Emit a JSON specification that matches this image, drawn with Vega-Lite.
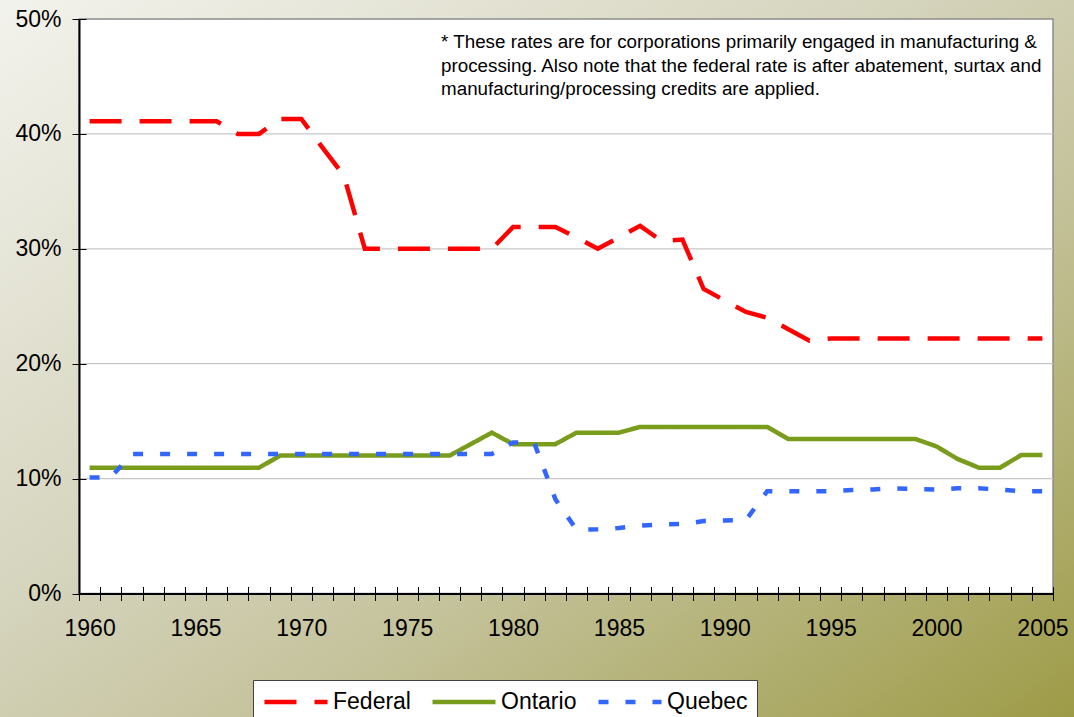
{
  "$schema": "https://vega.github.io/schema/vega-lite/v6.json",
  "width": 974,
  "height": 574.5,
  "autosize": {"type": "none"},
  "padding": {"left": 79, "top": 19, "right": 21, "bottom": 123.5},
  "config": {
    "font": "Liberation Sans",
    "view": {"stroke": null},
    "axis": {"labelFont": "Liberation Sans", "labelColor": "#000000", "grid": false, "title": null}
  },
  "resolve": {"axis": {"x": "independent", "y": "independent"}},
  "layer": [
    {
      "data": {"values": [{}]},
      "mark": {
        "type": "rect",
        "color": {
          "gradient": "linear", "x1": 0, "y1": 0, "x2": 1, "y2": 1,
          "stops": [
            {"offset": 0, "color": "#f4f4ef"},
            {"offset": 0.42, "color": "#d5d4bd"},
            {"offset": 0.61, "color": "#c5c39c"},
            {"offset": 0.92, "color": "#a3a153"},
            {"offset": 1, "color": "#9a973f"}
          ]
        }
      },
      "encoding": {
        "x": {"datum": 1955, "type": "quantitative", "scale": {"domain": [1959.5, 2005.5], "nice": false, "zero": false}, "axis": null},
        "x2": {"datum": 2008},
        "y": {"datum": -13, "type": "quantitative", "scale": {"domain": [0, 50], "nice": false, "zero": false}, "axis": null},
        "y2": {"datum": 53}
      }
    },
    {
      "data": {"values": [{}]},
      "mark": {"type": "rect", "fill": "#ffffff", "stroke": "#8c8c8c", "strokeWidth": 1.5},
      "encoding": {
        "x": {"datum": 1959.5, "type": "quantitative", "scale": {"domain": [1959.5, 2005.5], "nice": false, "zero": false},
          "axis": {"orient": "bottom", "zindex": 1, "values": [1959.5,1960.5,1961.5,1962.5,1963.5,1964.5,1965.5,1966.5,1967.5,1968.5,1969.5,1970.5,1971.5,1972.5,1973.5,1974.5,1975.5,1976.5,1977.5,1978.5,1979.5,1980.5,1981.5,1982.5,1983.5,1984.5,1985.5,1986.5,1987.5,1988.5,1989.5,1990.5,1991.5,1992.5,1993.5,1994.5,1995.5,1996.5,1997.5,1998.5,1999.5,2000.5,2001.5,2002.5,2003.5,2004.5,2005.5], "labels": false, "domain": false, "ticks": true, "tickSize": 7, "tickColor": "#000000", "tickWidth": 1}},
        "x2": {"datum": 2005.5},
        "y": {"datum": 0, "type": "quantitative", "scale": {"domain": [0, 50], "nice": false, "zero": false}, "axis": null},
        "y2": {"datum": 50}
      }
    },
    {
      "data": {"values": [{"g": 10}, {"g": 20}, {"g": 30}, {"g": 40}]},
      "mark": {"type": "rule", "color": "#c8c8c8", "strokeWidth": 1.2},
      "encoding": {
        "x": {"datum": 1959.5, "type": "quantitative", "scale": {"domain": [1959.5, 2005.5], "nice": false, "zero": false},
          "axis": {"orient": "bottom", "zindex": 1, "offset": -7, "values": [1959.5,1960.5,1961.5,1962.5,1963.5,1964.5,1965.5,1966.5,1967.5,1968.5,1969.5,1970.5,1971.5,1972.5,1973.5,1974.5,1975.5,1976.5,1977.5,1978.5,1979.5,1980.5,1981.5,1982.5,1983.5,1984.5,1985.5,1986.5,1987.5,1988.5,1989.5,1990.5,1991.5,1992.5,1993.5,1994.5,1995.5,1996.5,1997.5,1998.5,1999.5,2000.5,2001.5,2002.5,2003.5,2004.5,2005.5], "labels": false, "domain": false, "ticks": true, "tickSize": 7, "tickColor": "#000000", "tickWidth": 1}},
        "x2": {"datum": 2005.5},
        "y": {"field": "g", "type": "quantitative", "scale": {"domain": [0, 50], "nice": false, "zero": false},
          "axis": {"orient": "left", "zindex": 1, "offset": -7, "values": [0, 10, 20, 30, 40, 50], "labels": false, "domain": false, "ticks": true, "tickSize": 7, "tickColor": "#000000", "tickWidth": 1}}
      }
    },
    {
      "data": {"values": [
        {"year": 1960, "series": "Federal", "rate": 41.1},
        {"year": 1961, "series": "Federal", "rate": 41.1},
        {"year": 1962, "series": "Federal", "rate": 41.1},
        {"year": 1963, "series": "Federal", "rate": 41.1},
        {"year": 1964, "series": "Federal", "rate": 41.1},
        {"year": 1965, "series": "Federal", "rate": 41.1},
        {"year": 1966, "series": "Federal", "rate": 41.1},
        {"year": 1967, "series": "Federal", "rate": 40.0},
        {"year": 1968, "series": "Federal", "rate": 40.0},
        {"year": 1969, "series": "Federal", "rate": 41.3},
        {"year": 1970, "series": "Federal", "rate": 41.3},
        {"year": 1971, "series": "Federal", "rate": 38.8},
        {"year": 1972, "series": "Federal", "rate": 36.4},
        {"year": 1973, "series": "Federal", "rate": 30.0},
        {"year": 1974, "series": "Federal", "rate": 30.0},
        {"year": 1975, "series": "Federal", "rate": 30.0},
        {"year": 1976, "series": "Federal", "rate": 30.0},
        {"year": 1977, "series": "Federal", "rate": 30.0},
        {"year": 1978, "series": "Federal", "rate": 30.0},
        {"year": 1979, "series": "Federal", "rate": 30.0},
        {"year": 1980, "series": "Federal", "rate": 31.9},
        {"year": 1981, "series": "Federal", "rate": 31.9},
        {"year": 1982, "series": "Federal", "rate": 31.9},
        {"year": 1983, "series": "Federal", "rate": 31.0},
        {"year": 1984, "series": "Federal", "rate": 30.0},
        {"year": 1985, "series": "Federal", "rate": 31.0},
        {"year": 1986, "series": "Federal", "rate": 32.0},
        {"year": 1987, "series": "Federal", "rate": 30.7},
        {"year": 1988, "series": "Federal", "rate": 30.8},
        {"year": 1989, "series": "Federal", "rate": 26.5},
        {"year": 1990, "series": "Federal", "rate": 25.5},
        {"year": 1991, "series": "Federal", "rate": 24.5},
        {"year": 1992, "series": "Federal", "rate": 24.0},
        {"year": 1993, "series": "Federal", "rate": 23.0},
        {"year": 1994, "series": "Federal", "rate": 22.0},
        {"year": 1995, "series": "Federal", "rate": 22.2},
        {"year": 1996, "series": "Federal", "rate": 22.2},
        {"year": 1997, "series": "Federal", "rate": 22.2},
        {"year": 1998, "series": "Federal", "rate": 22.2},
        {"year": 1999, "series": "Federal", "rate": 22.2},
        {"year": 2000, "series": "Federal", "rate": 22.2},
        {"year": 2001, "series": "Federal", "rate": 22.2},
        {"year": 2002, "series": "Federal", "rate": 22.2},
        {"year": 2003, "series": "Federal", "rate": 22.2},
        {"year": 2004, "series": "Federal", "rate": 22.2},
        {"year": 2005, "series": "Federal", "rate": 22.2},
        {"year": 1960, "series": "Ontario", "rate": 10.95},
        {"year": 1961, "series": "Ontario", "rate": 10.95},
        {"year": 1962, "series": "Ontario", "rate": 10.95},
        {"year": 1963, "series": "Ontario", "rate": 10.95},
        {"year": 1964, "series": "Ontario", "rate": 10.95},
        {"year": 1965, "series": "Ontario", "rate": 10.95},
        {"year": 1966, "series": "Ontario", "rate": 10.95},
        {"year": 1967, "series": "Ontario", "rate": 10.95},
        {"year": 1968, "series": "Ontario", "rate": 10.95},
        {"year": 1969, "series": "Ontario", "rate": 12.0},
        {"year": 1970, "series": "Ontario", "rate": 12.0},
        {"year": 1971, "series": "Ontario", "rate": 12.0},
        {"year": 1972, "series": "Ontario", "rate": 12.0},
        {"year": 1973, "series": "Ontario", "rate": 12.0},
        {"year": 1974, "series": "Ontario", "rate": 12.0},
        {"year": 1975, "series": "Ontario", "rate": 12.0},
        {"year": 1976, "series": "Ontario", "rate": 12.0},
        {"year": 1977, "series": "Ontario", "rate": 12.0},
        {"year": 1978, "series": "Ontario", "rate": 13.0},
        {"year": 1979, "series": "Ontario", "rate": 14.0},
        {"year": 1980, "series": "Ontario", "rate": 13.0},
        {"year": 1981, "series": "Ontario", "rate": 13.0},
        {"year": 1982, "series": "Ontario", "rate": 13.0},
        {"year": 1983, "series": "Ontario", "rate": 14.0},
        {"year": 1984, "series": "Ontario", "rate": 14.0},
        {"year": 1985, "series": "Ontario", "rate": 14.0},
        {"year": 1986, "series": "Ontario", "rate": 14.5},
        {"year": 1987, "series": "Ontario", "rate": 14.5},
        {"year": 1988, "series": "Ontario", "rate": 14.5},
        {"year": 1989, "series": "Ontario", "rate": 14.5},
        {"year": 1990, "series": "Ontario", "rate": 14.5},
        {"year": 1991, "series": "Ontario", "rate": 14.5},
        {"year": 1992, "series": "Ontario", "rate": 14.5},
        {"year": 1993, "series": "Ontario", "rate": 13.45},
        {"year": 1994, "series": "Ontario", "rate": 13.45},
        {"year": 1995, "series": "Ontario", "rate": 13.45},
        {"year": 1996, "series": "Ontario", "rate": 13.45},
        {"year": 1997, "series": "Ontario", "rate": 13.45},
        {"year": 1998, "series": "Ontario", "rate": 13.45},
        {"year": 1999, "series": "Ontario", "rate": 13.45},
        {"year": 2000, "series": "Ontario", "rate": 12.8},
        {"year": 2001, "series": "Ontario", "rate": 11.7},
        {"year": 2002, "series": "Ontario", "rate": 10.95},
        {"year": 2003, "series": "Ontario", "rate": 10.95},
        {"year": 2004, "series": "Ontario", "rate": 12.05},
        {"year": 2005, "series": "Ontario", "rate": 12.05},
        {"year": 1960, "series": "Quebec", "rate": 10.1},
        {"year": 1961, "series": "Quebec", "rate": 10.1},
        {"year": 1962, "series": "Quebec", "rate": 12.15},
        {"year": 1963, "series": "Quebec", "rate": 12.15},
        {"year": 1964, "series": "Quebec", "rate": 12.15},
        {"year": 1965, "series": "Quebec", "rate": 12.15},
        {"year": 1966, "series": "Quebec", "rate": 12.15},
        {"year": 1967, "series": "Quebec", "rate": 12.15},
        {"year": 1968, "series": "Quebec", "rate": 12.15},
        {"year": 1969, "series": "Quebec", "rate": 12.15},
        {"year": 1970, "series": "Quebec", "rate": 12.15},
        {"year": 1971, "series": "Quebec", "rate": 12.15},
        {"year": 1972, "series": "Quebec", "rate": 12.15},
        {"year": 1973, "series": "Quebec", "rate": 12.15},
        {"year": 1974, "series": "Quebec", "rate": 12.15},
        {"year": 1975, "series": "Quebec", "rate": 12.15},
        {"year": 1976, "series": "Quebec", "rate": 12.15},
        {"year": 1977, "series": "Quebec", "rate": 12.15},
        {"year": 1978, "series": "Quebec", "rate": 12.15},
        {"year": 1979, "series": "Quebec", "rate": 12.15},
        {"year": 1980, "series": "Quebec", "rate": 13.15},
        {"year": 1981, "series": "Quebec", "rate": 13.1},
        {"year": 1982, "series": "Quebec", "rate": 8.2},
        {"year": 1983, "series": "Quebec", "rate": 5.55},
        {"year": 1984, "series": "Quebec", "rate": 5.6},
        {"year": 1985, "series": "Quebec", "rate": 5.7},
        {"year": 1986, "series": "Quebec", "rate": 5.9},
        {"year": 1987, "series": "Quebec", "rate": 6.0},
        {"year": 1988, "series": "Quebec", "rate": 6.05},
        {"year": 1989, "series": "Quebec", "rate": 6.3},
        {"year": 1990, "series": "Quebec", "rate": 6.35},
        {"year": 1991, "series": "Quebec", "rate": 6.4},
        {"year": 1992, "series": "Quebec", "rate": 8.9},
        {"year": 1993, "series": "Quebec", "rate": 8.9},
        {"year": 1994, "series": "Quebec", "rate": 8.9},
        {"year": 1995, "series": "Quebec", "rate": 8.9},
        {"year": 1996, "series": "Quebec", "rate": 9.0},
        {"year": 1997, "series": "Quebec", "rate": 9.05},
        {"year": 1998, "series": "Quebec", "rate": 9.15},
        {"year": 1999, "series": "Quebec", "rate": 9.1},
        {"year": 2000, "series": "Quebec", "rate": 9.05},
        {"year": 2001, "series": "Quebec", "rate": 9.15},
        {"year": 2002, "series": "Quebec", "rate": 9.15},
        {"year": 2003, "series": "Quebec", "rate": 9.05},
        {"year": 2004, "series": "Quebec", "rate": 8.9},
        {"year": 2005, "series": "Quebec", "rate": 8.9}
      ]},
      "mark": {"type": "line", "strokeWidth": 4.5},
      "encoding": {
        "x": {"field": "year", "type": "quantitative", "scale": {"domain": [1959.5, 2005.5], "nice": false, "zero": false},
          "axis": {"orient": "bottom", "zindex": 1, "values": [1960, 1965, 1970, 1975, 1980, 1985, 1990, 1995, 2000, 2005], "format": "d", "ticks": false, "tickSize": 0, "labelPadding": 24, "domain": true, "domainColor": "#000000", "domainWidth": 2, "labelFontSize": 23, "labelFlush": false, "labelOverlap": false, "labelBound": false}},
        "y": {"field": "rate", "type": "quantitative", "scale": {"domain": [0, 50], "nice": false, "zero": false},
          "axis": {"orient": "left", "zindex": 1, "values": [0, 10, 20, 30, 40, 50], "labelExpr": "datum.value + '%'", "ticks": true, "tickSize": 7, "tickColor": "#000000", "tickWidth": 1, "labelPadding": 11, "domain": true, "domainColor": "#000000", "domainWidth": 2, "labelFontSize": 23, "labelFlush": false, "labelOverlap": false, "labelBound": false}},
        "color": {"field": "series", "type": "nominal",
          "scale": {"domain": ["Federal", "Ontario", "Quebec"], "range": ["#ff0000", "#7a9c1c", "#3366ff"]},
          "legend": {"orient": "none", "legendX": 174, "legendY": 661, "direction": "horizontal", "columns": 3, "title": null, "symbolType": "M-1,0H5", "symbolSize": 441, "symbolStrokeWidth": 4.5, "labelFontSize": 23, "labelFont": "Liberation Sans", "labelColor": "#000000", "labelOffset": 45, "columnPadding": 12, "padding": 9, "fillColor": "#ffffff", "strokeColor": "#404040", "labelLimit": 300}},
        "strokeDash": {"field": "series", "type": "nominal",
          "scale": {"domain": ["Federal", "Ontario", "Quebec"], "range": [[32, 18], [1, 0], [10, 17]]},
          "legend": {"orient": "none", "legendX": 174, "legendY": 661, "direction": "horizontal", "columns": 3, "title": null, "symbolType": "M-1,0H5", "symbolSize": 441, "symbolStrokeWidth": 4.5, "labelFontSize": 23, "labelFont": "Liberation Sans", "labelColor": "#000000", "labelOffset": 45, "columnPadding": 12, "padding": 9, "fillColor": "#ffffff", "strokeColor": "#404040", "labelLimit": 300}}
      }
    },
    {
      "data": {"values": [{"note": "* These rates are for corporations primarily engaged in manufacturing &\nprocessing. Also note that the federal rate is after abatement, surtax and\nmanufacturing/processing credits are applied."}]},
      "mark": {"type": "text", "align": "left", "baseline": "alphabetic", "lineBreak": "\n", "lineHeight": 23.5, "fontSize": 18.8, "font": "Liberation Sans", "color": "#000000"},
      "encoding": {
        "x": {"datum": 1976.6, "type": "quantitative", "scale": {"domain": [1959.5, 2005.5], "nice": false, "zero": false}, "axis": null},
        "y": {"datum": 47.45, "type": "quantitative", "scale": {"domain": [0, 50], "nice": false, "zero": false}, "axis": null},
        "text": {"field": "note", "type": "nominal"}
      }
    }
  ]
}
